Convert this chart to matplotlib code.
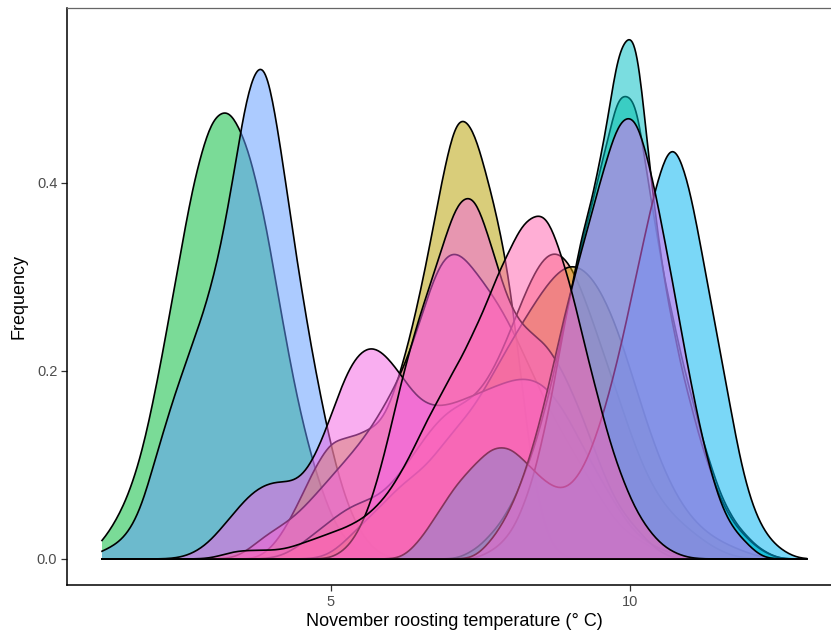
import numpy as np
import matplotlib.pyplot as plt
from matplotlib.colors import to_rgba

plt.rcParams['font.family'] = ['Liberation Sans', 'DejaVu Sans']

# span of all November roost readings (deg C); each density is evaluated over it
t_lo, t_hi = 1.17, 12.95

# readings per roost: temperature bin (deg C) and number of readings in that bin
green_t = [1.2, 1.5, 1.8, 2.1, 2.4, 2.7, 3.0, 3.3, 3.6, 3.9, 4.2, 4.5, 4.8, 5.1, 5.4]
green_n = [2, 5, 10, 19, 30, 41, 48, 49, 45, 37, 25, 15, 8, 3, 1]

blue_t = [1.2, 1.5, 1.8, 2.1, 2.4, 2.7, 3.0, 3.3, 3.6, 3.9, 4.2, 4.5, 4.8, 5.1, 5.4, 5.7]
blue_n = [1, 2, 5, 13, 20, 26, 32, 42, 57, 62, 47, 32, 20, 10, 4, 1]

gold_t = [4.1, 4.4, 4.7, 5.0, 5.3, 5.6, 5.9, 6.2, 6.5, 6.8, 7.1, 7.4, 7.7, 8.0, 8.3, 8.6]
gold_n = [2, 6, 11, 15, 15, 16, 17, 24, 33, 45, 57, 54, 45, 36, 13, 2]

rose_t = [3.8, 4.1, 4.4, 4.7, 5.0, 5.3, 5.6, 5.9, 6.2, 6.5, 6.8, 7.1, 7.4, 7.7, 8.0,
          8.3, 8.6, 8.9, 9.2, 9.5, 9.8, 10.1, 10.4]
rose_n = [2, 3, 4, 6, 8, 10, 12, 15, 18, 23, 30, 31, 28, 26, 23, 19, 15, 12, 9, 6, 3,
          2, 1]

red_t = [4.6, 5.0, 5.4, 5.8, 6.2, 6.6, 7.0, 7.4, 7.8, 8.2, 8.6, 9.0, 9.4, 9.8, 10.2,
         10.6, 11.0, 11.4]
red_n = [2, 4, 6, 6, 9, 13, 16, 16, 20, 27, 33, 32, 24, 17, 9, 5, 3, 1]

orange_t = [5.4, 5.8, 6.2, 6.6, 7.0, 7.4, 7.8, 8.2, 8.6, 9.0, 9.4, 9.8, 10.2, 10.6,
            11.0, 11.4, 11.8]
orange_n = [3, 5, 8, 9, 13, 15, 20, 24, 28, 31, 29, 24, 15, 8, 4, 2, 1]

lilac_t = [2.9, 3.3, 3.7, 4.1, 4.5, 4.9, 5.3, 5.7, 6.1, 6.5, 6.9, 7.3, 7.7, 8.1,
           8.5, 8.9, 9.3, 9.7, 10.1, 10.5]
lilac_n = [1, 4, 7, 8, 7, 12, 20, 22, 19, 15, 15, 16, 17, 18, 18, 15, 10, 6, 2, 1]

pink_t = [5.3, 5.6, 5.9, 6.2, 6.5, 6.8, 7.1, 7.4, 7.7, 8.0, 8.3, 8.6, 8.9, 9.2, 9.5,
          9.8, 10.1, 10.4]
pink_n = [1, 4, 10, 18, 24, 29, 35, 36, 30, 24, 22, 21, 18, 14, 9, 5, 3, 1]

sea_t = [7.4, 7.7, 8.0, 8.3, 8.6, 8.9, 9.2, 9.5, 9.8, 10.1, 10.4, 10.7, 11.0, 11.3,
         11.6, 11.9, 12.2]
sea_n = [1, 3, 6, 11, 18, 28, 38, 46, 56, 56, 40, 29, 20, 12, 6, 3, 1]

teal_t = [7.7, 8.0, 8.3, 8.6, 8.9, 9.2, 9.5, 9.8, 10.1, 10.4, 10.7, 11.0, 11.3, 11.6,
          11.9, 12.2]
teal_n = [1, 3, 8, 17, 30, 42, 50, 66, 70, 44, 30, 20, 12, 6, 3, 1]

sky_t = [6.5, 6.8, 7.1, 7.4, 7.7, 8.0, 8.3, 8.6, 8.9, 9.2, 9.5, 9.8, 10.1, 10.4, 10.7,
         11.0, 11.3, 11.6, 11.9, 12.2, 12.5]
sky_n = [2, 5, 8, 10, 12, 12, 10, 8, 7, 9, 14, 21, 30, 39, 46, 40, 29, 19, 8, 3, 1]

violet_t = [7.7, 8.0, 8.3, 8.6, 8.9, 9.2, 9.5, 9.8, 10.1, 10.4, 10.7, 11.0, 11.3, 11.6,
            11.9]
violet_n = [2, 5, 10, 17, 26, 33, 40, 47, 48, 40, 30, 19, 10, 4, 2]

hot_t = [3.4, 3.8, 4.2, 4.6, 5.0, 5.4, 5.8, 6.2, 6.6, 7.0, 7.4, 7.8, 8.2, 8.6, 9.0,
         9.4, 9.8, 10.2, 10.6]
hot_n = [1, 1, 1, 2, 3, 4, 6, 10, 16, 21, 26, 33, 39, 41, 32, 20, 10, 4, 1]

# drawing order, kernel bandwidth and fill colour of each roost
roosts = [
    (green_t, green_n, 0.2, '#00BA38'),
    (blue_t, blue_n, 0.2, '#619CFF'),
    (gold_t, gold_n, 0.2, '#B79F00'),
    (rose_t, rose_n, 0.25, '#FF61C3'),
    (red_t, red_n, 0.3, '#F8766D'),
    (orange_t, orange_n, 0.3, '#C99600'),
    (lilac_t, lilac_n, 0.28, '#F564E3'),
    (pink_t, pink_n, 0.2, '#F564E3'),
    (sea_t, sea_n, 0.18, '#00C08B'),
    (teal_t, teal_n, 0.18, '#00BFC4'),
    (sky_t, sky_n, 0.2, '#00B4F0'),
    (violet_t, violet_n, 0.2, '#E76BF3'),
    (hot_t, hot_n, 0.25, '#FF64B0'),
]

grid = np.linspace(t_lo, t_hi, 600)


def kde(temps, counts, bw):
    temps = np.asarray(temps, float)
    counts = np.asarray(counts, float)
    z = (grid[:, None] - temps[None, :]) / bw
    k = np.exp(-0.5 * z ** 2) / (bw * np.sqrt(2 * np.pi))
    return (k * counts).sum(axis=1) / counts.sum()


fig = plt.figure(figsize=(8.31, 6.41), dpi=100)
ax = fig.add_axes([67 / 831, 56 / 641, 775 / 831, 577 / 641])

for i, (t, n, bw, col) in enumerate(roosts):
    dens = kde(t, n, bw)
    z = 2 + i
    ax.fill_between(grid, 0, dens, facecolor=to_rgba(col, 0.52), edgecolor='none', zorder=z)
    ax.plot(grid, dens, color='black', lw=1.2, zorder=z)
    ax.plot([t_lo, t_hi], [0, 0], color='black', lw=1.2, zorder=z)

ax.set_xlim(0.585, 13.545)
ax.set_ylim(-0.0277, 0.586)
ax.set_xticks([5, 10])
ax.set_yticks([0.0, 0.2, 0.4])
ax.set_yticklabels(['0.0', '0.2', '0.4'])

ax.spines['right'].set_visible(False)
ax.spines['top'].set_color('#666666')
ax.spines['top'].set_linewidth(0.9)
for side in ['left', 'bottom']:
    ax.spines[side].set_color('black')
    ax.spines[side].set_linewidth(1.1)

ax.tick_params(axis='both', length=4, width=0.9, color='#333333',
               labelcolor='#4D4D4D', labelsize=10.5, pad=3)
ax.set_xlabel('November roosting temperature (° C)', fontsize=13, color='black', labelpad=3)
ax.set_ylabel('Frequency', fontsize=13, color='black', labelpad=7)

fig.savefig('out.png', dpi=100)
